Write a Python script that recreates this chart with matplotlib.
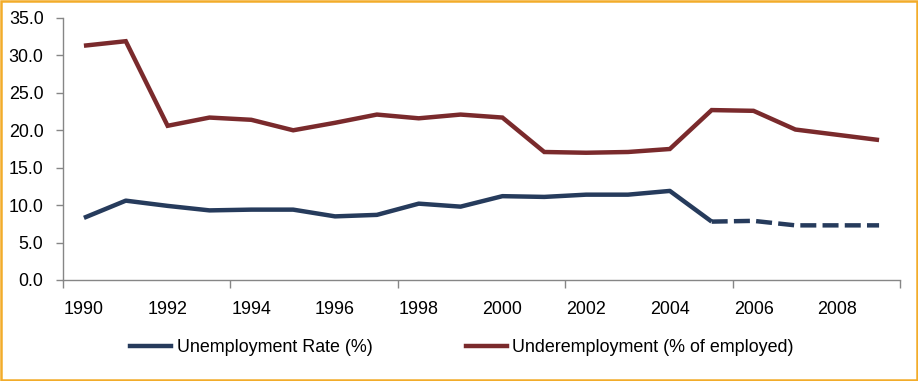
import matplotlib.pyplot as plt
from matplotlib.patches import Rectangle
from matplotlib.lines import Line2D

plt.rcParams['font.family'] = ['Liberation Sans', 'DejaVu Sans']

years = list(range(1990, 2010))
unemployment = [8.3, 10.6, 9.9, 9.3, 9.4, 9.4, 8.5, 8.7, 10.2, 9.8,
                11.2, 11.1, 11.4, 11.4, 11.9, 7.8, 7.9, 7.3, 7.3, 7.3]
underemployment = [31.3, 31.9, 20.6, 21.7, 21.4, 20.0, 21.0, 22.1, 21.6, 22.1,
                   21.7, 17.1, 17.0, 17.1, 17.5, 22.7, 22.6, 20.1, 19.4, 18.7]
# from this year on the unemployment line is dashed
dash_from = 2005

blue = '#263b5c'
red = '#7a2a2c'
grey = '#868686'
fs = 12.9

fig = plt.figure(figsize=(9.18, 3.81), dpi=100)
ax = fig.add_axes([63 / 918, 1 - 280 / 381, (900 - 63) / 918, (280 - 18) / 381])

x = list(range(len(years)))
k = years.index(dash_from)
ax.plot(x, underemployment, color=red, lw=3.2, solid_joinstyle='miter', solid_capstyle='butt')
ax.plot(x[:k + 1], unemployment[:k + 1], color=blue, lw=3.2, solid_capstyle='butt')
ax.plot(x[k:], unemployment[k:], color=blue, lw=3.2, dashes=(3.6, 1.4), dash_capstyle='butt')

ax.set_xlim(-0.5, len(years) - 0.5)
ax.set_ylim(0, 35)
ax.set_yticks([0, 5, 10, 15, 20, 25, 30, 35])
ax.set_yticklabels([f'{v:.1f}' for v in [0, 5, 10, 15, 20, 25, 30, 35]])

ax.set_xticks([i - 0.5 for i in range(0, len(years) + 1, 4)])
ax.set_xticklabels([])
ax.set_xticks(x[::2], minor=True)
ax.set_xticklabels([str(y) for y in years[::2]], minor=True)

for s in ['top', 'right']:
    ax.spines[s].set_visible(False)
for s in ['left', 'bottom']:
    ax.spines[s].set_color(grey)
    ax.spines[s].set_linewidth(1.0)

ax.tick_params(axis='y', which='major', length=5, width=1, color=grey, pad=9, labelsize=fs)
ax.tick_params(axis='x', which='major', length=6, width=1, color=grey, direction='out')
ax.tick_params(axis='x', which='minor', length=0, pad=15, labelsize=fs)

handles = [Line2D([], [], color=blue, lw=3.2), Line2D([], [], color=red, lw=3.2)]
fig.legend(handles, ['Unemployment Rate (%)', 'Underemployment (% of employed)'],
           loc='center', bbox_to_anchor=(462 / 918, 1 - 348 / 381), ncol=2, frameon=False,
           fontsize=fs, handlelength=2.3, handletextpad=0.3, columnspacing=5.2)

fig.patches.append(Rectangle((0.0015, 0.003), 0.997, 0.994, transform=fig.transFigure,
                             fill=False, edgecolor='#f2ac2a', lw=1.8))

fig.savefig('out.png', dpi=100)
